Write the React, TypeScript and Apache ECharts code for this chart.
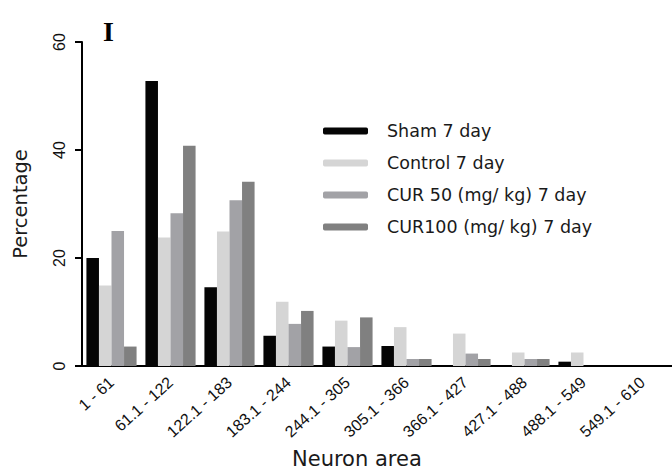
import React, { useEffect, useRef } from "react";
import * as echarts from "echarts";

const categories = [
  "1 - 61",
  "61.1 - 122",
  "122.1 - 183",
  "183.1 - 244",
  "244.1 - 305",
  "305.1 - 366",
  "366.1 - 427",
  "427.1 - 488",
  "488.1 - 549",
  "549.1 - 610",
];

const seriesNames = [
  "Sham 7 day",
  "Control 7 day",
  "CUR 50 (mg/ kg) 7 day",
  "CUR100 (mg/ kg) 7 day",
];

const sham = [20.0, 52.8, 14.6, 5.6, 3.6, 3.7, 0, 0, 0.8, 0];
const control = [14.9, 23.8, 24.9, 11.9, 8.4, 7.2, 6.0, 2.5, 2.5, 0];
const cur50 = [25.0, 28.3, 30.7, 7.8, 3.5, 1.3, 2.3, 1.3, 0, 0];
const cur100 = [3.6, 40.8, 34.1, 10.2, 9.0, 1.3, 1.3, 1.3, 0, 0];

const yTicks = [0, 20, 40, 60];

const colors = ["#050505", "#d5d5d5", "#a2a2a6", "#808080"];

export default function App() {
  const ref = useRef<HTMLDivElement>(null);

  useEffect(() => {
    if (!ref.current) return;
    const chart = echarts.init(ref.current, null, { renderer: "svg" });
    const dataSets = [sham, control, cur50, cur100];
    const sans = "Liberation Sans, Arial, sans-serif";
    const wide = "DejaVu Sans, sans-serif";
    chart.setOption({
      animation: false,
      backgroundColor: "#ffffff",
      color: colors,
      title: {
        text: "I",
        left: 98,
        top: 12,
        textStyle: {
          fontFamily: "Liberation Serif, Times New Roman, serif",
          fontWeight: "bold",
          fontSize: 28,
          color: "#000",
        },
      },
      legend: {
        orient: "vertical",
        left: 318,
        top: 117,
        itemWidth: 45,
        itemHeight: 7,
        itemGap: 14,
        icon: "roundRect",
        data: seriesNames,
        selectedMode: false,
        textStyle: {
          fontFamily: wide,
          fontSize: 17.5,
          color: "#1a1a1a",
          padding: [0, 0, 0, 14],
        },
      },
      grid: {
        left: 82,
        top: 42,
        width: 600,
        bottom: 110,
        containLabel: false,
      },
      xAxis: {
        type: "category",
        data: categories,
        axisLine: { lineStyle: { color: "#000", width: 2 } },
        axisTick: {
          alignWithLabel: true,
          length: 9,
          lineStyle: { color: "#000", width: 2 },
        },
        axisLabel: {
          rotate: 42,
          margin: 14,
          fontFamily: sans,
          fontSize: 16,
          color: "#111",
          interval: 0,
        },
      },
      yAxis: {
        type: "value",
        min: yTicks[0],
        max: yTicks[yTicks.length - 1],
        interval: 20,
        name: "Percentage",
        nameLocation: "middle",
        nameGap: 52,
        nameRotate: 90,
        nameTextStyle: {
          fontFamily: wide,
          fontSize: 19.5,
          color: "#1a1a1a",
        },
        axisLine: { show: true, lineStyle: { color: "#000", width: 2 } },
        axisTick: { show: true, length: 7, lineStyle: { color: "#000", width: 2 } },
        splitLine: { show: false },
        axisLabel: {
          rotate: 90,
          margin: 15,
          fontFamily: sans,
          fontSize: 16,
          color: "#111",
        },
      },
      graphic: [
        {
          type: "text",
          left: 292,
          top: 448,
          style: {
            text: "Neuron area",
            fontFamily: wide,
            fontSize: 21,
            fill: "#1a1a1a",
          },
        },
      ],
      series: seriesNames.map((name, i) => ({
        name,
        type: "bar",
        data: dataSets[i],
        barGap: "0%",
        barCategoryGap: "15%",
        itemStyle: { color: colors[i] },
      })),
    });
    return () => chart.dispose();
  }, []);

  return (
    <div
      ref={ref}
      style={{ position: "fixed", left: 0, top: 0, width: 672, height: 476 }}
    />
  );
}
